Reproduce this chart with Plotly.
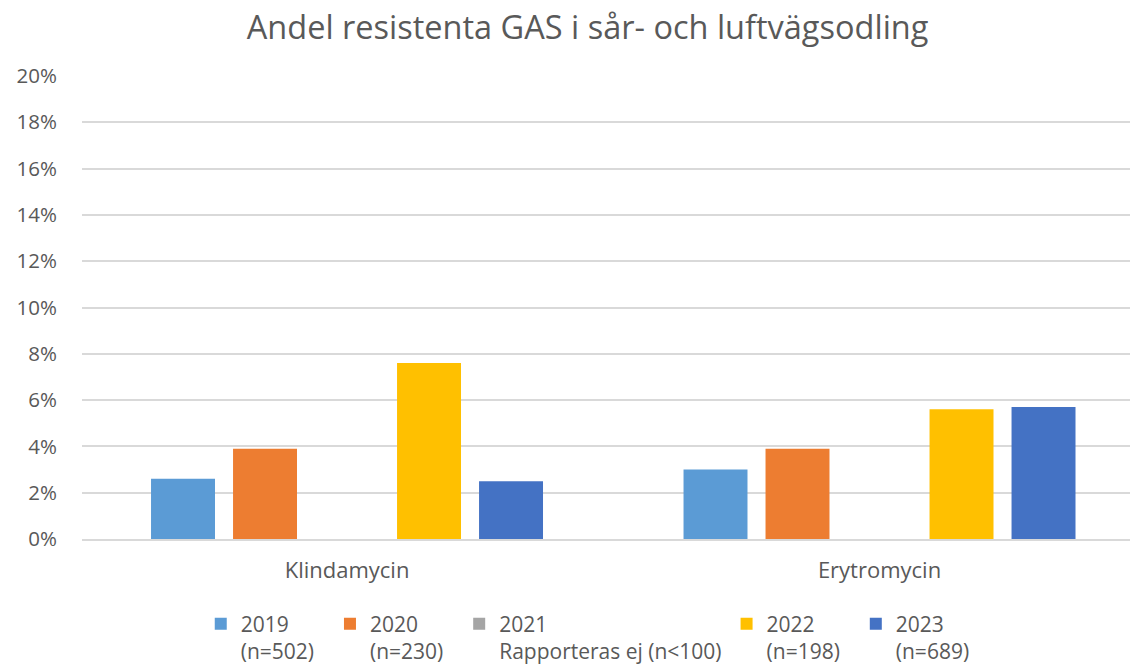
import plotly.graph_objects as go

categories = ["Klindamycin", "Erytromycin"]
NB = "\u00a0" * 2
series_names = ["2019<br>(n=502)" + NB, "2020<br>(n=230)" + NB, "2021<br>Rapporteras ej (n<100)",
                "2022<br>(n=198)" + NB, "2023<br>(n=689)" + NB]
v2019 = [2.6, 3.0]
v2020 = [3.9, 3.9]
v2021 = [None, None]
v2022 = [7.6, 5.6]
v2023 = [2.5, 5.7]
colors = ["#5B9BD5", "#ED7D31", "#A5A5A5", "#FFC000", "#4472C4"]
tick_vals = [0, 2, 4, 6, 8, 10, 12, 14, 16, 18, 20]
tick_text = [f"{v}%" for v in tick_vals]

fig = go.Figure()
for name, vals, col in zip(series_names, [v2019, v2020, v2021, v2022, v2023], colors):
    fig.add_trace(go.Bar(x=categories, y=vals, name=name, marker_color=col,
                         marker_line_width=0))

font_family = "Open Sans, Liberation Sans, sans-serif"
fig.update_layout(
    width=1130, height=667,
    paper_bgcolor="white", plot_bgcolor="white",
    title=dict(text="Andel resistenta GAS i sår- och luftvägsodling", x=0.52, xanchor="center",
               xref="container", y=0.958, yanchor="middle",
               font=dict(family=font_family, size=32.5, color="#595959")),
    margin=dict(l=82, r=0, t=76, b=128),
    barmode="group", bargap=0.23, bargroupgap=0.22,
    font=dict(family=font_family, size=20, color="#595959"),
    xaxis=dict(showline=True, linecolor="#D9D9D9", linewidth=1.5, ticks="",
               range=[-0.4977, 1.4704],
               tickfont=dict(size=22, color="#595959"), ticklabelstandoff=11,
               automargin=False, fixedrange=True),
    yaxis=dict(range=[0, 20], tickvals=tick_vals, ticktext=tick_text, showgrid=True,
               gridcolor="#D9D9D9", gridwidth=1.5, zeroline=False, ticks="",
               tickfont=dict(size=20.5, color="#595959"), ticklabelstandoff=24,
               automargin=False, fixedrange=True),
    legend=dict(orientation="h", x=0.525, xanchor="center", xref="container",
                y=0.095, yanchor="top", yref="container",
                valign="top", font=dict(size=21, color="#595959"),
                itemwidth=30, traceorder="normal"),
    showlegend=True,
)
fig.write_html("out.html", post_script="document.body.style.margin='0';",
               config={"displayModeBar": False})
